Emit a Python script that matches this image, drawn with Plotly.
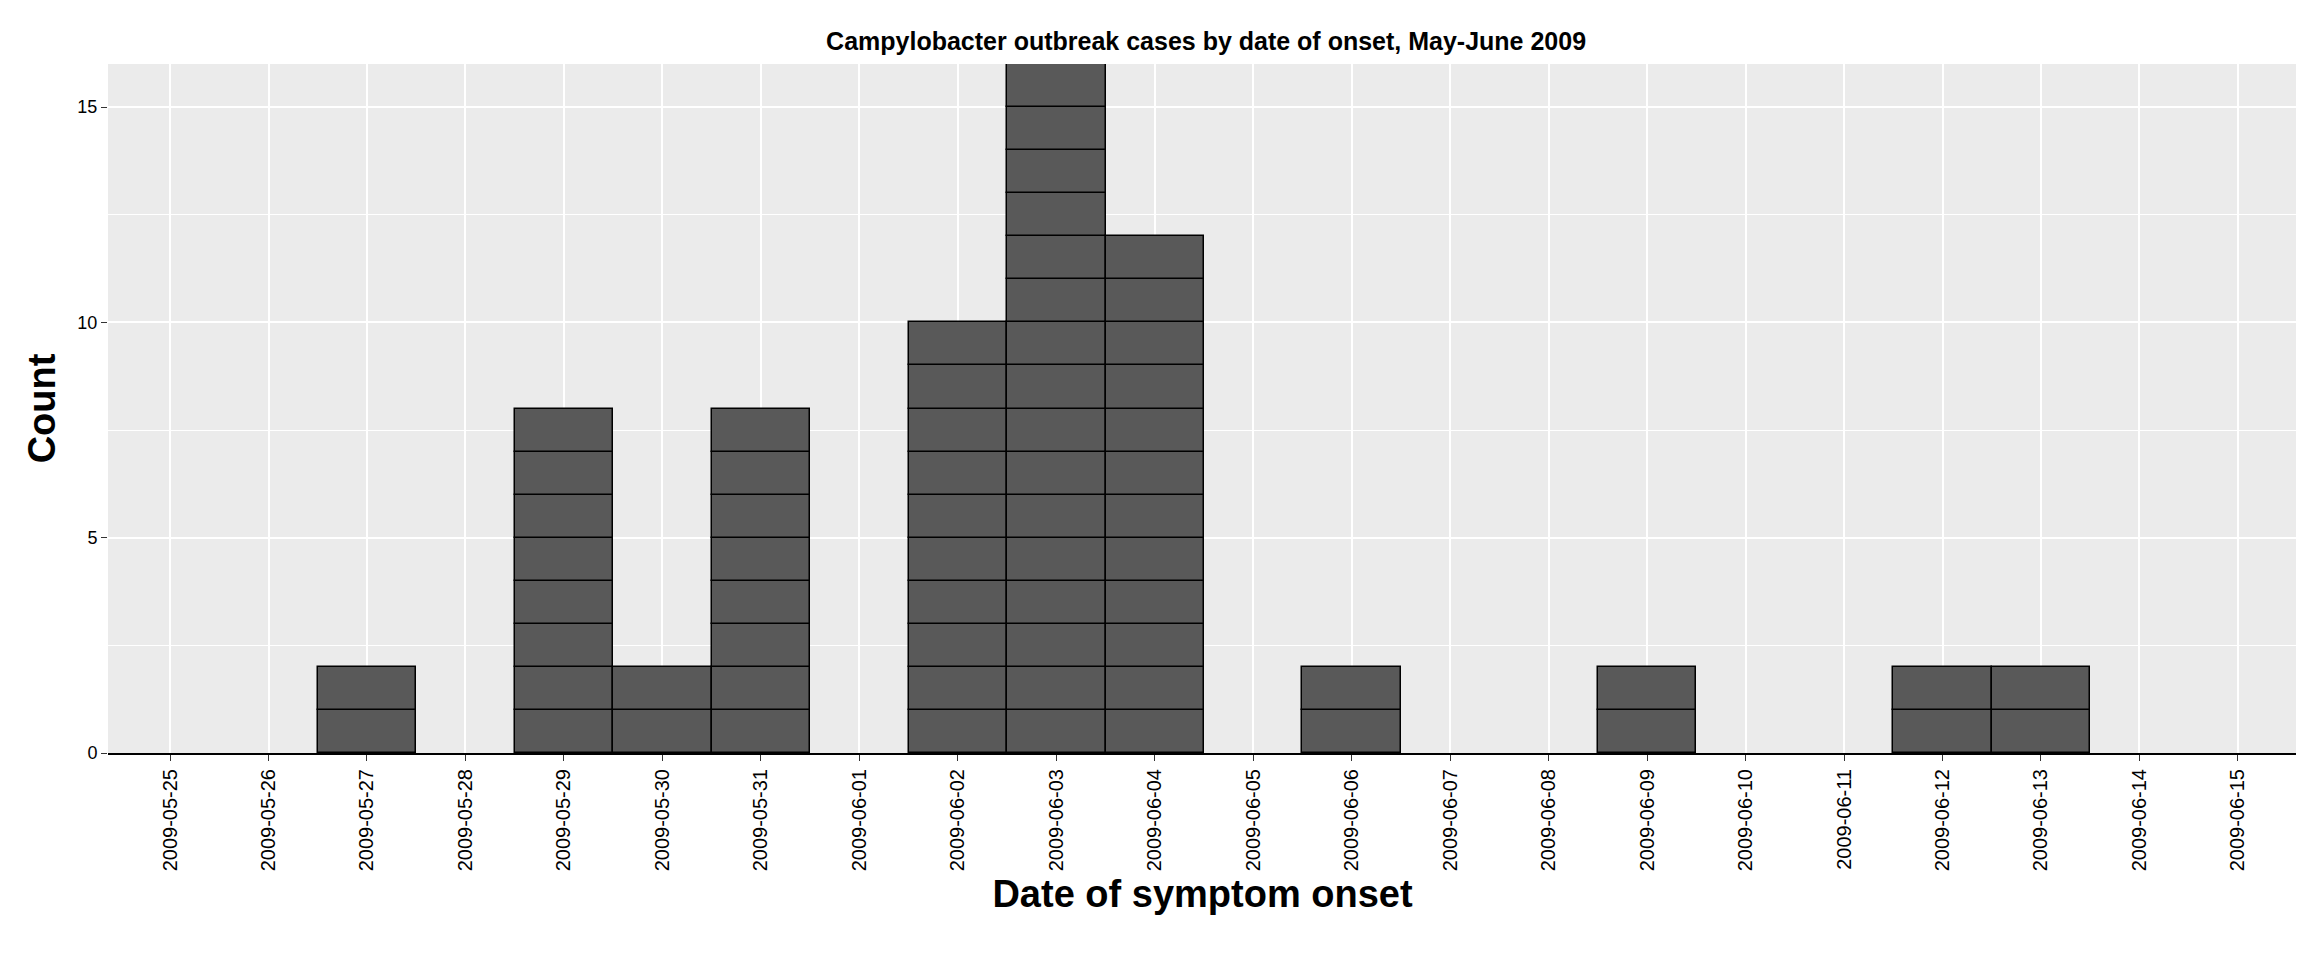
import plotly.graph_objects as go

dates = ["2009-05-25", "2009-05-26", "2009-05-27", "2009-05-28", "2009-05-29", "2009-05-30",
         "2009-05-31", "2009-06-01", "2009-06-02", "2009-06-03", "2009-06-04", "2009-06-05",
         "2009-06-06", "2009-06-07", "2009-06-08", "2009-06-09", "2009-06-10", "2009-06-11",
         "2009-06-12", "2009-06-13", "2009-06-14", "2009-06-15"]
counts = [0, 0, 2, 0, 8, 2, 8, 0, 10, 16, 12, 0, 2, 0, 0, 2, 0, 0, 2, 2, 0, 0]

# one box per case
xs, ys = [], []
for d, c in zip(dates, counts):
    xs += [d] * c
    ys += [1] * c

fig = go.Figure(go.Bar(
    x=xs, y=ys, marker=dict(color="#595959", line=dict(color="black", width=1.5)),
    hoverinfo="skip"))

fig.update_layout(
    width=2304, height=960, barmode="stack", bargap=0,
    paper_bgcolor="white", plot_bgcolor="#EBEBEB",
    margin=dict(l=100, r=15, t=56, b=215),
    font=dict(family="Liberation Sans, Arial", color="black"),
    title=dict(text="<b>Campylobacter outbreak cases by date of onset, May-June 2009</b>",
               x=0.52, xanchor="center", y=0.975, font=dict(size=25)),
    showlegend=False,
)
fig.update_xaxes(
    type="category", categoryorder="array", categoryarray=dates, tickvals=dates,
    range=[-0.63, len(dates) - 0.4], tickangle=-90, tickfont=dict(size=20),
    showgrid=True, gridcolor="white", gridwidth=2,
    showline=True, linecolor="black", linewidth=2,
    ticks="outside", ticklen=6, tickcolor="#333",
    title=dict(text="<b>Date of symptom onset</b>", font=dict(size=38), standoff=10),
)
fig.update_yaxes(
    range=[0, 16], tickvals=[0, 5, 10, 15], tickfont=dict(size=18),
    showgrid=True, gridcolor="white", gridwidth=2, zeroline=False,
    minor=dict(tickvals=[2.5, 7.5, 12.5], showgrid=True, gridcolor="white", gridwidth=1),
    ticks="outside", ticklen=6, tickcolor="#333",
    title=dict(text="<b>Count</b>", font=dict(size=38), standoff=10),
)

fig.write_html("out.html")
